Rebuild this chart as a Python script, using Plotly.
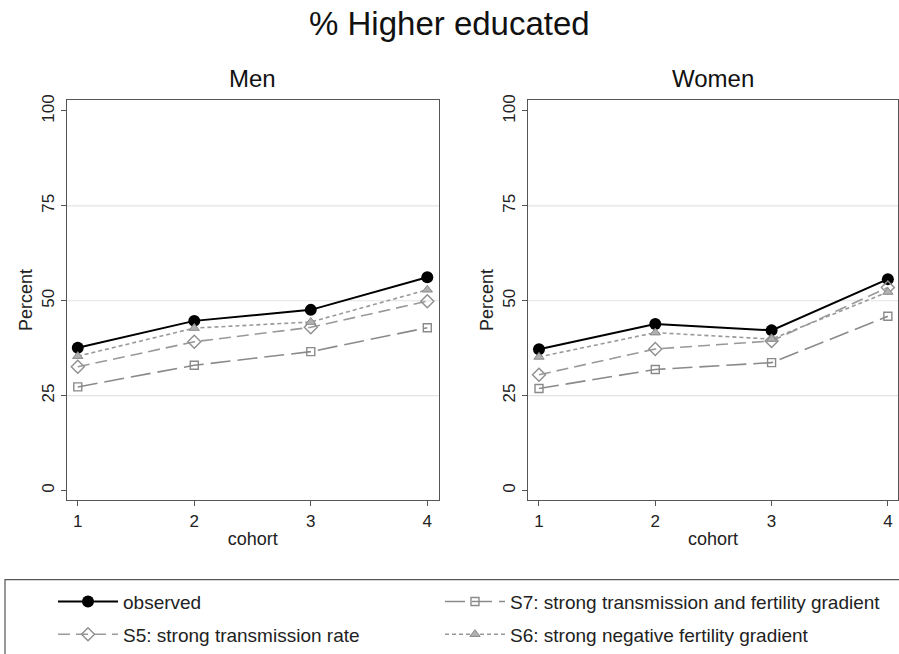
import plotly.graph_objects as go

cohorts = [1, 2, 3, 4]

men_observed = [37.6, 44.7, 47.6, 56.2]
men_s7 = [27.3, 33.0, 36.6, 42.9]
men_s5 = [32.6, 39.2, 43.0, 49.9]
men_s6 = [35.4, 42.8, 44.4, 52.9]

women_observed = [37.2, 43.9, 42.2, 55.7]
women_s7 = [26.9, 31.9, 33.7, 45.9]
women_s5 = [30.5, 37.3, 39.4, 53.5]
women_s6 = [35.2, 41.6, 39.9, 52.3]

y_ticks = [0, 25, 50, 75, 100]
grid_values = [25, 50, 75]
x_ticks = [1, 2, 3, 4]

series_names = [
    "observed",
    "S5: strong transmission rate",
    "S7: strong transmission and fertility gradient",
    "S6: strong negative fertility gradient",
]
keys = ["observed", "S5", "S7", "S6"]
legend_of = {"observed": "legend", "S5": "legend", "S7": "legend2", "S6": "legend2"}

FONT = "Liberation Sans, Arial, sans-serif"

styles = {
    "observed": dict(line=dict(color="#000000", width=2),
                     marker=dict(symbol="circle", size=12, color="#000000")),
    "S7": dict(line=dict(color="#8a8a8a", width=1.6, dash="20px,7px"),
               marker=dict(symbol="square-open", size=8, color="#8a8a8a", line=dict(width=1.4))),
    "S5": dict(line=dict(color="#999999", width=1.6, dash="12px,6px"),
               marker=dict(symbol="diamond-open", size=10, color="#8f8f8f", line=dict(width=1.4))),
    "S6": dict(line=dict(color="#999999", width=1.6, dash="4px,3px"),
               marker=dict(symbol="triangle-up", size=9, color="#b0b0b0",
                           line=dict(color="#8a8a8a", width=1))),
}

fig = go.Figure()

panels = [
    ("x", "y", [men_observed, men_s5, men_s7, men_s6], True),
    ("x2", "y2", [women_observed, women_s5, women_s7, women_s6], False),
]
for xa, ya, data, show in panels:
    for key, name, vals in zip(keys, series_names, data):
        fig.add_trace(go.Scatter(
            x=cohorts, y=vals, mode="lines+markers", name=name,
            xaxis=xa, yaxis=ya, showlegend=show, legendgroup=key,
            legend=legend_of[key], cliponaxis=False, **styles[key]))

ax_common = dict(showline=True, mirror=True, linecolor="#555555", linewidth=1.2,
                 ticks="outside", ticklen=5, tickcolor="#555555", showgrid=False,
                 zeroline=False, tickfont=dict(size=17, color="#222222", family=FONT))

legend_common = dict(orientation="v", y=1 - 583/654, xanchor="left", yanchor="top",
                     itemwidth=60, tracegroupgap=5,
                     font=dict(size=19, color="#222222", family=FONT),
                     bgcolor="rgba(0,0,0,0)", traceorder="grouped")

fig.update_layout(
    width=899, height=654,
    margin=dict(l=0, r=0, t=0, b=0),
    paper_bgcolor="white", plot_bgcolor="white",
    font=dict(family=FONT, color="#222222"),
    xaxis=dict(domain=[0.0742, 0.488], range=[0.905, 4.098], tickvals=x_ticks,
               title=dict(text="cohort", font=dict(size=18), standoff=2), **ax_common),
    xaxis2=dict(domain=[0.587, 0.999], range=[0.903, 4.088], tickvals=x_ticks,
                title=dict(text="cohort", font=dict(size=18), standoff=2), **ax_common),
    yaxis=dict(domain=[0.2355, 0.854], range=[-2.6, 103], tickvals=y_ticks, tickangle=-90,
               title=dict(text="Percent", font=dict(size=18), standoff=1), anchor="x", **ax_common),
    yaxis2=dict(domain=[0.2355, 0.854], range=[-2.6, 103], tickvals=y_ticks, tickangle=-90,
                title=dict(text="Percent", font=dict(size=18), standoff=1), anchor="x2", **ax_common),
    legend=dict(x=53/899, **legend_common),
    legend2=dict(x=440/899, **legend_common),
    showlegend=True,
)

shapes = []
for xa in ["x", "x2"]:
    ya = "y" if xa == "x" else "y2"
    for g in grid_values:
        shapes.append(dict(type="line", xref=f"{xa} domain", yref=ya, x0=0, x1=1, y0=g, y1=g,
                           line=dict(color="#e3e3e3", width=1.2), layer="below"))
shapes.append(dict(type="rect", xref="paper", yref="paper", x0=5/899, x1=1.01,
                   y0=-0.05, y1=1 - 580/654, line=dict(color="#555555", width=1.2)))
fig.update_layout(shapes=shapes)

fig.add_annotation(text="% Higher educated", x=0.5, y=1 - 19/654, xref="paper", yref="paper",
                   showarrow=False, font=dict(size=33, color="#111111", family=FONT),
                   xanchor="center", yanchor="middle")
fig.add_annotation(text="Men", x=(66.7 + 438.7) / 2 / 899, y=1 - 74/654, xref="paper", yref="paper",
                   showarrow=False, font=dict(size=24, color="#111111", family=FONT),
                   xanchor="center", yanchor="middle")
fig.add_annotation(text="Women", x=(527.7 + 898) / 2 / 899, y=1 - 74/654, xref="paper", yref="paper",
                   showarrow=False, font=dict(size=24, color="#111111", family=FONT),
                   xanchor="center", yanchor="middle")

fig.write_html("out.html", config={"displayModeBar": False},
               post_script="document.body.style.margin='0px';document.documentElement.style.overflow='hidden';")
